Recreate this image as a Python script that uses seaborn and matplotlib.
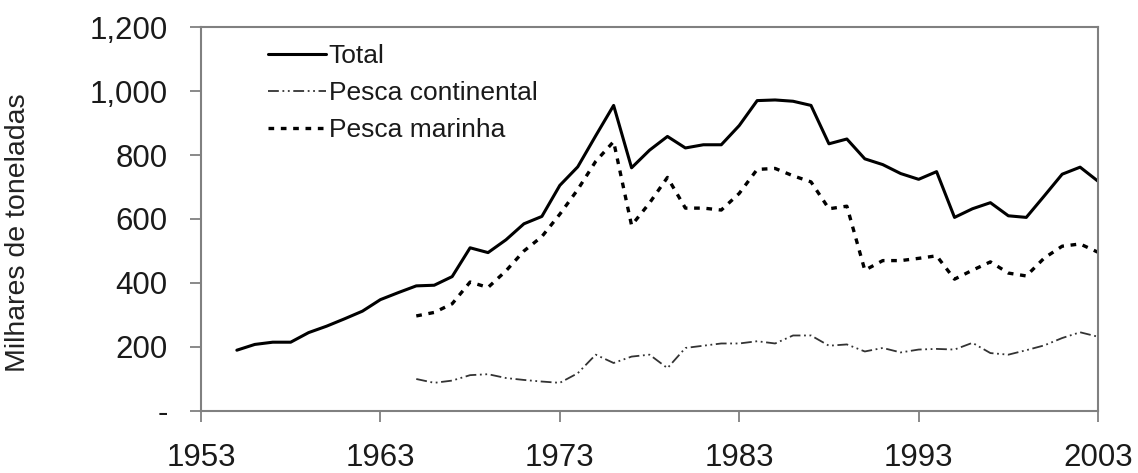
import matplotlib
matplotlib.use("Agg")
import matplotlib.pyplot as plt
import seaborn as sns
import pandas as pd

# annual catches, thousand tonnes
years_total = list(range(1955, 2004))
total = [190, 208, 215, 215, 245, 265, 288, 312, 348, 370,
         391, 393, 420, 510, 495, 535, 585, 608, 705, 763,
         860, 955, 760, 815, 858, 822, 832, 832, 892, 970,
         972, 968, 955, 835, 850, 788, 770, 742, 724, 748,
         605, 632, 651, 610, 605, 672, 740, 762, 718]

years_sub = list(range(1965, 2004))
continental = [100, 88, 95, 112, 115, 103, 97, 92, 88, 118,
               176, 150, 170, 176, 134, 197, 204, 211, 211, 218,
               211, 236, 236, 204, 208, 186, 197, 183, 192, 194,
               192, 213, 181, 176, 190, 205, 228, 246, 232]
marinha = [297, 308, 335, 403, 386, 438, 500, 545, 615, 692,
           780, 842, 580, 650, 730, 634, 634, 628, 680, 755,
           758, 735, 716, 632, 640, 440, 470, 470, 477, 485,
           412, 440, 466, 431, 422, 478, 515, 522, 496]

labels = ["Total", "Pesca continental", "Pesca marinha"]
xticks = [1953, 1963, 1973, 1983, 1993, 2003]
yticks = [0, 200, 400, 600, 800, 1000, 1200]
ytick_labels = ["-", "200", "400", "600", "800", "1,000", "1,200"]

sns.set_style("white")
plt.rcParams["font.family"] = ["Liberation Sans", "DejaVu Sans"]

df_total = pd.DataFrame({"ano": years_total, "valor": total})
df_cont = pd.DataFrame({"ano": years_sub, "valor": continental})
df_mar = pd.DataFrame({"ano": years_sub, "valor": marinha})

fig = plt.figure(figsize=(11.38, 4.73), dpi=100)
ax = fig.add_axes([0.1766, 0.1311, 0.9649 - 0.1766, 0.9429 - 0.1311])

sns.lineplot(data=df_total, x="ano", y="valor", ax=ax, color="black",
             linewidth=2.2, label=labels[0])
sns.lineplot(data=df_cont, x="ano", y="valor", ax=ax, color="#333333",
             linewidth=1.3, linestyle=(0, (6, 2, 1, 2, 1, 2)), label=labels[1])
sns.lineplot(data=df_mar, x="ano", y="valor", ax=ax, color="black",
             linewidth=2.4, linestyle=(0, (1.7, 2.0)), label=labels[2])

ax.set_xlim(1953, 2003)
ax.set_ylim(0, 1200)
ax.set_xticks(xticks)
ax.set_xticklabels([str(x) for x in xticks])
ax.set_yticks(yticks)
ax.set_yticklabels(ytick_labels)
ax.set_xlabel("")
ax.set_ylabel("Milhares de toneladas", fontsize=20.5, color="#222222")
ax.yaxis.set_label_coords(-0.19, 0.465)

for s in ax.spines.values():
    s.set_color("#808080")
    s.set_linewidth(1.5)
ax.tick_params(axis="both", direction="out", length=8, width=1.3,
               color="#808080", labelsize=22.5, labelcolor="#1a1a1a",
               bottom=True, left=True)
ax.tick_params(axis="y", pad=16)
ax.tick_params(axis="x", pad=15)

leg = ax.legend(loc="upper left", bbox_to_anchor=(268 / 1138, 1 - 44 / 473),
                bbox_transform=fig.transFigure, frameon=False, fontsize=19,
                handlelength=2.2, handletextpad=0.1, labelspacing=0.5,
                borderpad=0, borderaxespad=0)
for t in leg.get_texts():
    t.set_color("#1a1a1a")

fig.savefig("out.png", dpi=100)
